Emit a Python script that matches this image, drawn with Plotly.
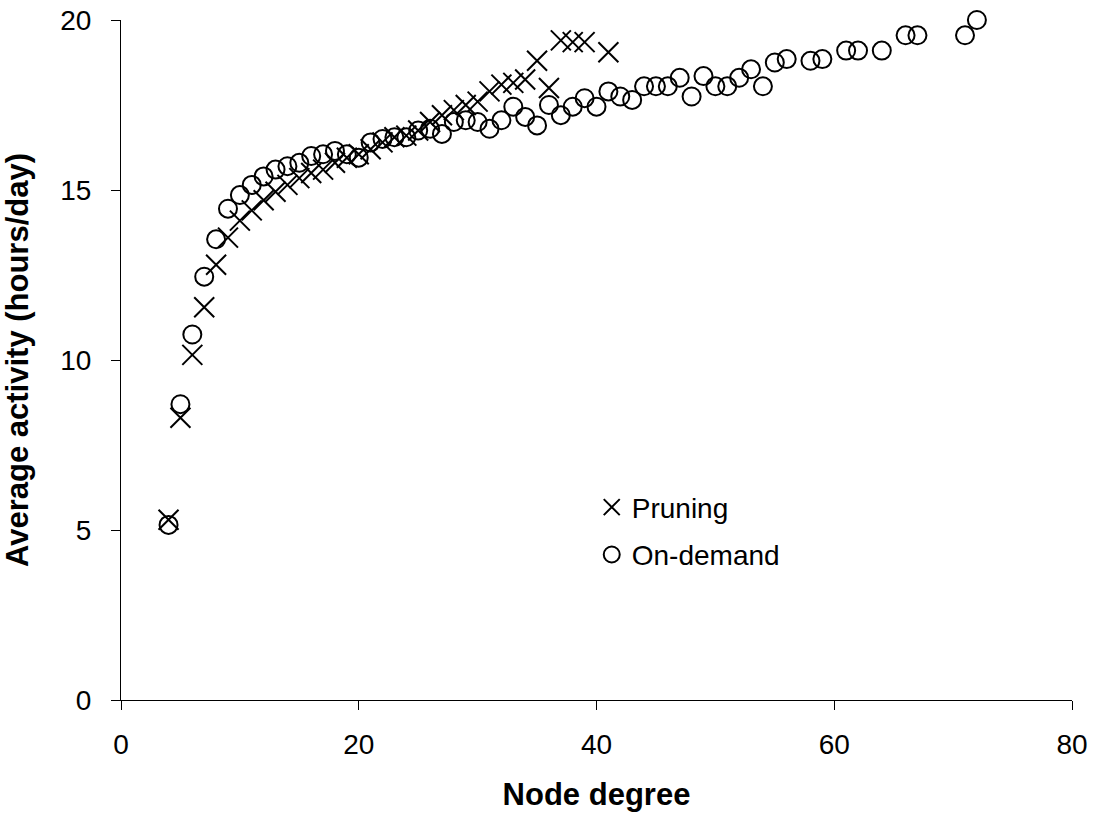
import plotly.graph_objects as go

pruning_x = [4, 5, 6, 7, 8, 9, 10, 11, 12, 13, 14, 15, 16, 17, 18, 19, 20, 21, 22, 23,
             24, 25, 26, 27, 28, 29, 30, 31, 32, 33, 34, 35, 36, 37, 38, 39, 41]
pruning_y = [5.3, 8.3, 10.15, 11.55, 12.8, 13.6, 14.1, 14.4, 14.7, 14.95, 15.15, 15.35,
             15.5, 15.6, 15.8, 15.95, 16.05, 16.2, 16.4, 16.55, 16.6, 16.75, 17.0,
             17.2, 17.35, 17.5, 17.6, 17.9, 18.1, 18.15, 18.25, 18.8, 18.0, 19.4,
             19.35, 19.35, 19.05]

ondemand_x = [4, 5, 6, 7, 8, 9, 10, 11, 12, 13, 14, 15, 16, 17, 18, 19, 20, 21, 22, 23,
              24, 25, 26, 27, 28, 29, 30, 31, 32, 33, 34, 35, 36, 37, 38, 39, 40, 41, 42,
              43, 44, 45, 46, 47, 48, 49, 50, 51, 52, 53, 54, 55, 56, 58, 59, 61, 62, 64,
              66, 67, 71, 72]
ondemand_y = [5.15, 8.7, 10.75, 12.45, 13.55, 14.45, 14.85, 15.15, 15.4, 15.6, 15.7, 15.8,
              16.0, 16.05, 16.15, 16.05, 15.95, 16.4, 16.5, 16.55, 16.55, 16.75, 16.8, 16.65,
              17.0, 17.05, 17.0, 16.8, 17.05, 17.45, 17.15, 16.9, 17.5, 17.2, 17.45, 17.7,
              17.45, 17.9, 17.75, 17.65, 18.05, 18.05, 18.05, 18.3, 17.75, 18.35, 18.05, 18.05,
              18.3, 18.55, 18.05, 18.75, 18.85, 18.8, 18.85, 19.1, 19.1, 19.1, 19.55, 19.55,
              19.55, 20.0]

x_ticks = [0, 20, 40, 60, 80]
y_ticks = [0, 5, 10, 15, 20]

font_family = "Liberation Sans, Arial, sans-serif"

fig = go.Figure()
fig.add_trace(go.Scatter(
    x=pruning_x, y=pruning_y, mode="markers", name="Pruning", legendgroup="a",
    marker=dict(symbol="x-thin-open", size=20, color="black",
                line=dict(color="black", width=2)),
    cliponaxis=False,
))
fig.add_trace(go.Scatter(
    x=ondemand_x, y=ondemand_y, mode="markers", name="On-demand", legendgroup="b",
    marker=dict(symbol="circle-open", size=18, color="black",
                line=dict(color="black", width=2)),
    cliponaxis=False,
))

fig.update_layout(
    width=1093, height=816,
    margin=dict(l=121, r=21, t=20, b=116),
    paper_bgcolor="white", plot_bgcolor="white",
    font=dict(family=font_family, size=28, color="black"),
    showlegend=True,
    legend=dict(x=0.495, y=0.32, xanchor="left", yanchor="top",
                bgcolor="rgba(0,0,0,0)", font=dict(size=28),
                itemsizing="trace", tracegroupgap=8, traceorder="grouped"),
    xaxis=dict(
        range=[0, 80], tickvals=x_ticks, ticktext=[str(v) for v in x_ticks],
        showgrid=False, zeroline=False, showline=True, linecolor="black", linewidth=1,
        ticks="outside", ticklen=9, tickcolor="black", ticklabelstandoff=10,
        title=dict(text="<b>Node degree</b>", font=dict(size=31), standoff=24),
        automargin=False,
    ),
    yaxis=dict(
        range=[0, 20], tickvals=y_ticks, ticktext=[str(v) for v in y_ticks],
        showgrid=False, zeroline=False, showline=True, linecolor="black", linewidth=1,
        ticks="outside", ticklen=9, tickcolor="black", ticklabelstandoff=14,
        title=dict(text="<b>Average activity (hours/day)</b>", font=dict(size=31), standoff=34),
        automargin=False,
    ),
)

fig.write_html("out.html")
